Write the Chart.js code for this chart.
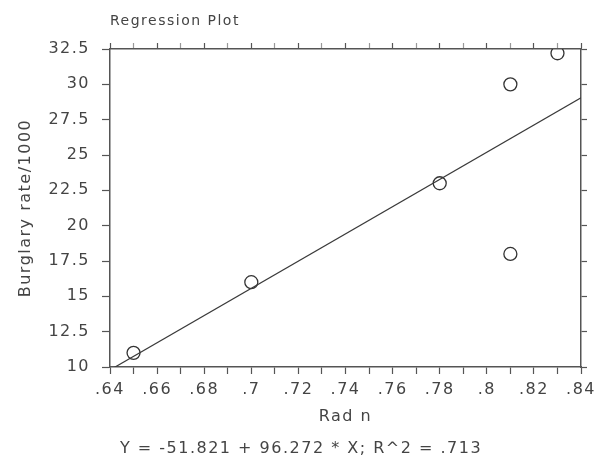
<!DOCTYPE html>
<html>
<head>
<meta charset="utf-8">
<script src="https://cdn.jsdelivr.net/npm/chart.js@4/dist/chart.umd.min.js"></script>
<style>
  html, body { margin: 0; padding: 0; background: #fff; }
  canvas { display: block; }
</style>
</head>
<body>
<canvas id="regChart" width="602" height="467"></canvas>
<script>
// data
const radN = [0.65, 0.70, 0.78, 0.81, 0.81, 0.83];
const burglaryRate = [11, 16, 23, 30, 18, 32.2];
// regression line end points (Y = -51.821 + 96.272 * X)
const fitX = [0.64, 0.84];
const fitY = [9.79, 29.05];

const xTicks = { min: 0.64, max: 0.84, step: 0.01 };
const yTicks = { min: 10, max: 32.5, step: 2.5 };

const titleText = 'Regression Plot';
const footerText = 'Y = -51.821 + 96.272 * X; R^2 = .713';
const xTitle = 'Rad n';
const yTitle = 'Burglary rate/1000';

const FONT = "'DejaVu Sans', sans-serif";
const INK = '#444';
const AXIS = '#555';

const points = radN.map((x, i) => ({ x: x, y: burglaryRate[i] }));
const fitLine = fitX.map((x, i) => ({ x: x, y: fitY[i] }));

function fmtX(v) {
    const n = Math.round(v * 100);
    if (n % 2 !== 0) return '';
    return String(n / 100).replace(/^0/, '');
}

// spacing between letters, the reference font is wide
const spacing = {
    id: 'spacing',
    beforeUpdate(chart) { chart.ctx.letterSpacing = '1.5px'; },
    beforeDraw(chart) { chart.ctx.letterSpacing = '1.5px'; }
};

// title on top, equation under the axis
const texts = {
    id: 'texts',
    afterDraw(chart) {
        const ctx = chart.ctx;
        const area = chart.chartArea;
        ctx.save();
        ctx.letterSpacing = '1.5px';
        ctx.fillStyle = INK;
        ctx.textBaseline = 'middle';
        ctx.font = '14px ' + FONT;
        ctx.textAlign = 'left';
        ctx.fillText(titleText, area.left, 21);
        ctx.font = '16px ' + FONT;
        ctx.textAlign = 'center';
        ctx.fillText(footerText, 301, 449);
        ctx.restore();
    }
};

const ctx = document.getElementById('regChart').getContext('2d');
new Chart(ctx, {
    type: 'scatter',
    data: {
        datasets: [{
            data: fitLine,
            showLine: true,
            clip: 0,
            borderColor: '#3a3a3a',
            borderWidth: 1.2,
            pointRadius: 0,
            xAxisID: 'x',
            yAxisID: 'y'
        }, {
            data: points,
            pointStyle: 'circle',
            pointRadius: 6.5,
            borderColor: '#333',
            borderWidth: 1.3,
            backgroundColor: 'rgba(255,255,255,0)',
            xAxisID: 'x',
            yAxisID: 'y'
        }]
    },
    plugins: [spacing, texts],
    options: {
        responsive: false,
        animation: false,
        layout: { padding: 0 },
        plugins: {
            legend: { display: false },
            tooltip: { enabled: false }
        },
        scales: {
            x: {
                type: 'linear',
                position: 'bottom',
                min: xTicks.min,
                max: xTicks.max,
                afterFit: s => { s.height = 100; },
                border: { display: true, color: AXIS, width: 1.5 },
                grid: { drawOnChartArea: false, tickLength: 7, tickColor: AXIS, tickWidth: 1.2 },
                ticks: {
                    stepSize: xTicks.step,
                    autoSkip: false,
                    maxRotation: 0,
                    padding: 6,
                    color: INK,
                    font: { family: FONT, size: 16 },
                    callback: v => fmtX(v)
                },
                title: {
                    display: true,
                    text: xTitle,
                    color: INK,
                    font: { family: FONT, size: 16, lineHeight: 1.2 },
                    padding: { top: 0, bottom: 41 }
                }
            },
            x2: {
                type: 'linear',
                position: 'top',
                min: xTicks.min,
                max: xTicks.max,
                afterFit: s => { s.height = 49; },
                border: { display: true, color: AXIS, width: 1.5 },
                grid: {
                    drawOnChartArea: false,
                    tickLength: 6,
                    tickWidth: 1.2,
                    tickColor: c => (Math.round(c.tick.value * 100) % 2 === 0 ? AXIS : '#999')
                },
                ticks: { stepSize: xTicks.step, autoSkip: false, display: false }
            },
            y: {
                type: 'linear',
                position: 'left',
                min: yTicks.min,
                max: yTicks.max,
                afterFit: s => { s.width = 110; },
                border: { display: true, color: AXIS, width: 1.5 },
                grid: { drawOnChartArea: false, tickLength: 8, tickColor: AXIS, tickWidth: 1.2 },
                ticks: {
                    stepSize: yTicks.step,
                    autoSkip: false,
                    padding: 12,
                    color: INK,
                    font: { family: FONT, size: 16 },
                    callback: v => String(v)
                },
                title: {
                    display: true,
                    text: yTitle,
                    color: INK,
                    font: { family: FONT, size: 16, lineHeight: 1.2 },
                    padding: { top: 16, bottom: 0 }
                }
            },
            y2: {
                type: 'linear',
                position: 'right',
                min: yTicks.min,
                max: yTicks.max,
                afterFit: s => { s.width = 19; },
                border: { display: true, color: AXIS, width: 1.5 },
                grid: { drawOnChartArea: false, tickLength: 6, tickColor: AXIS, tickWidth: 1.2 },
                ticks: { stepSize: yTicks.step, autoSkip: false, display: false }
            }
        }
    }
});
</script>
</body>
</html>
